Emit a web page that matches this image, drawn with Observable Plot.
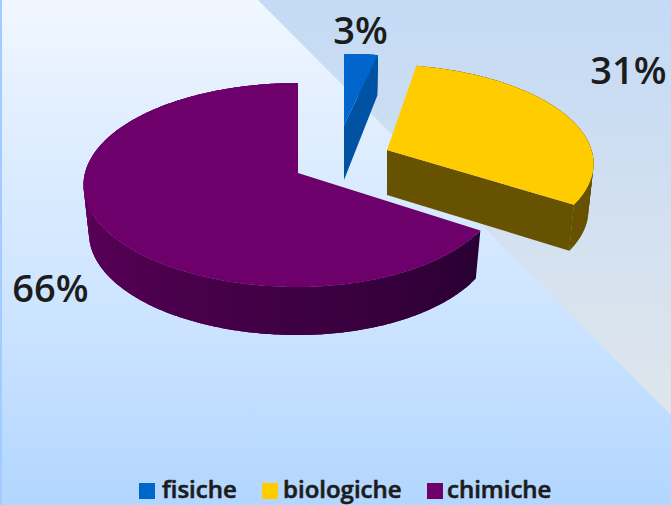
<!DOCTYPE html>
<html><head><meta charset="utf-8">
<script src="https://cdn.jsdelivr.net/npm/d3@7"></script>
<script src="https://cdn.jsdelivr.net/npm/@observablehq/plot@0.6"></script>
<style>
html,body{margin:0;padding:0;width:671px;height:505px;overflow:hidden}
body{background:linear-gradient(#f1f7ff,#e0eeff 25%,#cbe3ff 65%,#b2d6ff);border-left:2px solid #a2ccff;box-sizing:border-box;position:relative;font-family:"Open Sans",sans-serif}
#chart{position:absolute;left:-2px;top:0}
#legend{position:absolute;left:0;top:470px;width:671px;height:35px;font-weight:600;font-size:24px;color:#1c1c1c;-webkit-text-stroke:.6px #1c1c1c}
#legend span{position:absolute;top:3px;line-height:32px;white-space:nowrap}
#legend i{position:absolute;top:13px;width:16px;height:16px}
</style></head><body>
<div id="chart"></div><div id="legend"></div>
<script>
const categories = ["fisiche", "biologiche", "chimiche"];
const shares = [3, 31, 66];
const topColors = ["#0066cc", "#ffcc00", "#6d006b"];
const sideColors = ["#0052a3", "#665200", "#5e005c"];
const sideEndColors = ["#0052a3", "#665200", "#2a0032"];

// pie geometry
const W = 671, H = 470, Rx = 213, Ry = 100.6, k = 0.118;
const layout = [
  {ax: 344, ay: 125, sx: .95, sy: .79, sxR: 1, shear: 0, depth: 41, depthApex: 55, lx: 16, ly: -94, drawOrder: 0},
  {ax: 387, ay: 150, sx: .96, sy: .95, sxR: 1, shear: -5, depth: 46, depthApex: 45, lx: 241, ly: -79, drawOrder: 2},
  {ax: 298, ay: 173, sx: 1, sy: 1, sxR: .95, shear: 0, depth: 48, depthApex: 48, lx: -248, ly: 116, drawOrder: 1}
];
const total = d3.sum(shares);
let acc = 0;
const slices = shares.map((v, i) => {
  const t0 = acc / total * 2 * Math.PI; acc += v;
  return {i, t0, t1: acc / total * 2 * Math.PI, ...layout[i]};
});
function rim(sl, t) {
  const u = Math.sin(t), v = Math.cos(t), s = 1 / (1 + k * v);
  const sx = u > 0 ? sl.sx * sl.sxR : sl.sx;
  return [sl.ax + Rx * sx * u * s + sl.shear * v, sl.ay - Ry * sl.sy * v * s];
}
function low(sl, p, d) { return [sl.ax + (p[0] - sl.ax) * .975, p[1] + d]; }
const tops = [], walls = [], cuts = [];
for (const sl of slices) {
  const n = Math.max(4, Math.ceil((sl.t1 - sl.t0) / (Math.PI / 60)));
  const ramp = d3.interpolateRgb(sideEndColors[sl.i], sideColors[sl.i]);
  const tAt = j => sl.t0 + (sl.t1 - sl.t0) * j / (n * 4);
  for (let j = 0; j <= n * 4; j++) {
    const p = rim(sl, tAt(j));
    tops.push({o: sl.drawOrder, id: sl.i, x1: sl.ax, y1: sl.ay, x2: p[0], y2: p[1], fill: topColors[sl.i]});
  }
  // outer wall: overlapping strips so the shade runs without seams
  for (let j = 0; j < n; j++) {
    const t = sl.t0 + (sl.t1 - sl.t0) * j / n;
    const c = sl.i === 2 ? ramp(Math.min(1, Math.max(0, (t - 2.14) / 2.5))) : sideColors[sl.i];
    const id = sl.i + "-" + j;
    for (let m = j * 4; m <= Math.min(n * 4, (j + 2) * 4); m++) {
      const p = rim(sl, tAt(m)), a = low(sl, p, sl.depth);
      walls.push({o: sl.drawOrder, id, seq: j, x1: p[0], y1: p[1], x2: a[0], y2: a[1], fill: c});
    }
  }
  const e = rim(sl, sl.t1), eb = low(sl, e, sl.depth);
  cuts.push({o: sl.drawOrder, id: sl.i, x1: sl.ax, y1: sl.ay, x2: sl.ax, y2: sl.ay + sl.depthApex, fill: sideColors[sl.i]});
  cuts.push({o: sl.drawOrder, id: sl.i, x1: e[0], y1: e[1], x2: eb[0], y2: eb[1], fill: sideColors[sl.i]});
}
// pale wedge behind the pie (upper right)
const wedge = [{x: 258, y1: 0, y2: 0}, {x: W, y1: 0, y2: 415}];
const gradient = () => {
  const s = d3.create("svg:defs");
  const g = s.append("linearGradient").attr("id", "wedgeFill").attr("gradientUnits", "userSpaceOnUse")
    .attr("x1", 0).attr("y1", 0).attr("x2", 0).attr("y2", 415);
  g.append("stop").attr("offset", 0).attr("stop-color", "#c4daf5");
  g.append("stop").attr("offset", 1).attr("stop-color", "#dfe6ec");
  return s.node();
};
const band = (rows) => Plot.area(rows, {x1: "x1", y1: "y1", x2: "x2", y2: "y2", z: "id", fill: "fill", curve: "linear"});
const sliceMarks = order => [
  band(walls.filter(d => d.o === order)),
  band(cuts.filter(d => d.o === order)),
  band(tops.filter(d => d.o === order))
];
const labels = slices.map(s => ({x: s.ax + s.lx, y: s.ay + s.ly, text: shares[s.i] + "%"}));
const plot = Plot.plot({
  width: W, height: H, margin: 0,
  style: {background: "transparent"},
  x: {domain: [0, W], range: [0, W], axis: null},
  y: {domain: [0, H], range: [0, H], axis: null},
  marks: [
    gradient,
    Plot.areaY(wedge, {x: "x", y1: "y1", y2: "y2", fill: "url(#wedgeFill)", curve: "linear"}),
    ...sliceMarks(0), ...sliceMarks(1), ...sliceMarks(2),
    Plot.text(labels, {x: "x", y: "y", text: "text", fontSize: 38, fontFamily: "Open Sans", fontWeight: 600, fill: "#1c1c1c", textAnchor: "middle", lineAnchor: "middle"})
  ]
});
document.getElementById("chart").append(plot);
// legend
const legendX = [[137, 160], [260, 281], [425, 445]];
const L = document.getElementById("legend");
categories.forEach((c, i) => {
  const sw = document.createElement("i");
  sw.style.left = legendX[i][0] + "px"; sw.style.background = topColors[i];
  const t = document.createElement("span");
  t.style.left = legendX[i][1] + "px"; t.textContent = c;
  L.append(sw, t);
});
</script></body></html>
